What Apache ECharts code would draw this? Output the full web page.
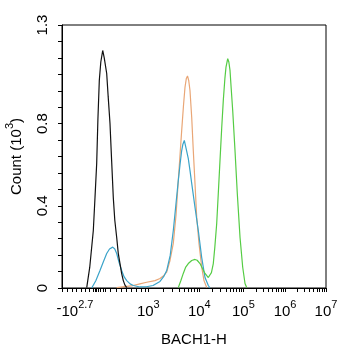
<!DOCTYPE html>
<html><head><meta charset="utf-8">
<script src="https://cdn.jsdelivr.net/npm/echarts@6/dist/echarts.min.js"></script>
<style>html,body{margin:0;padding:0;background:#fff}#c{width:342px;height:350px}</style>
</head><body><div id="c"></div>
<script>
// x values are positions on the display (logicle) channel scale 0..1000, y values are counts in 10^3
const blackX = [93.6, 105, 118.6, 125, 131.4, 136, 141.3, 147, 154.2, 160, 169.3, 175, 181.8, 188, 194.3, 200, 207.2, 213, 219.7, 226, 232.2, 238, 245.1];
const blackY = [0.002, 0.10, 0.280, 0.44, 0.606, 0.82, 1.010, 1.10, 1.156, 1.12, 1.044, 0.93, 0.801, 0.62, 0.440, 0.33, 0.246, 0.17, 0.119, 0.07, 0.036, 0.015, 0.002];

const cyanX = [112.5, 128, 143.9, 156, 169.3, 180, 192.1, 200, 207.2, 216, 226.1, 235, 245.1, 258, 270.1, 295.5, 320, 344.7, 371.2, 385, 396.6, 410, 421.6, 431, 440.5, 447, 453.4, 458, 463.3, 470, 478.4, 485, 491.3, 503.8, 516.3, 529.2, 541.7, 554.2, 560.6];
const cyanY = [0, 0.035, 0.085, 0.125, 0.168, 0.19, 0.199, 0.19, 0.168, 0.125, 0.085, 0.055, 0.036, 0.02, 0.012, 0.005, 0.006, 0.012, 0.032, 0.055, 0.085, 0.16, 0.280, 0.40, 0.523, 0.60, 0.669, 0.70, 0.718, 0.68, 0.630, 0.57, 0.509, 0.392, 0.280, 0.148, 0.051, 0.012, 0];

const orangeX = [207.2, 238.6, 269, 295, 320.8, 352.3, 371.2, 385, 396.6, 409.1, 421.6, 431.8, 440.5, 453.4, 460.2, 465.9, 471, 475.4, 480, 484.8, 491.3, 497.3, 503.8, 510.2, 518.9, 529.2, 537.9, 548.1];
const orangeY = [0.002, 0.007, 0.012, 0.02, 0.028, 0.036, 0.046, 0.06, 0.077, 0.134, 0.217, 0.353, 0.523, 0.767, 0.888, 0.977, 1.02, 1.032, 1.01, 0.961, 0.831, 0.669, 0.509, 0.345, 0.217, 0.101, 0.036, 0.002];

const greenX = [440.5, 450, 459.4, 468, 478.4, 491.3, 503.8, 512, 522.7, 532, 541.7, 554.2, 560.6, 566, 573.1, 579, 586, 592, 598.5, 605, 611, 617, 621.2, 627.7, 632, 636.4, 641, 646.6, 655.3, 664, 674.3, 684.5, 693.2, 699.6];
const greenY = [0.002, 0.035, 0.071, 0.10, 0.119, 0.134, 0.139, 0.135, 0.119, 0.095, 0.071, 0.051, 0.053, 0.075, 0.119, 0.20, 0.314, 0.46, 0.621, 0.78, 0.913, 1.02, 1.075, 1.116, 1.10, 1.059, 0.97, 0.864, 0.669, 0.460, 0.247, 0.101, 0.022, 0.002];

// axis tick labels (channel position, text)
const xLabelPos = [49, 327, 520, 687, 845, 1000];
const xLabelText = ['-{b|10}{s|2.7}', '{b|10}{s|3}', '{b|10}{s|4}', '{b|10}{s|5}', '{b|10}{s|6}', '{b|10}{s|7}'];
const decadePos = [327, 520, 687, 845, 1000];
const lowTicks = [0, 18.9, 39.8, 54.9, 72, 87.1, 102.3, 117.4, 125, 130.7, 136.4, 143.9, 155.3, 162.9, 181.8, 204.5, 226.1, 245.1, 264, 283, 301.9, 314.4];
const yLabelPos = [0, 0.4, 0.8, 1.28];

const xTicks = lowTicks.slice();
for (let i = 0; i < decadePos.length; i++) {
  xTicks.push(decadePos[i]);
  if (i < decadePos.length - 1) {
    for (let k = 2; k <= 9; k++) xTicks.push(decadePos[i] + Math.log10(k) * (decadePos[i + 1] - decadePos[i]));
  }
}
const yTicks = [];
for (let i = 0; i <= 16; i++) yTicks.push(+(i * 0.08).toFixed(2));

const zip = (xs, ys) => xs.map((x, i) => [x, ys[i]]);
const FONT = 'Liberation Sans';

const chart = echarts.init(document.getElementById('c'), null, {renderer: 'canvas'});
const mk = (name, xs, ys, color) => ({
  name, type: 'line', data: zip(xs, ys), showSymbol: false, symbol: 'none',
  lineStyle: {color, width: 1.2}, animation: false, z: 3
});
chart.setOption({
  animation: false,
  backgroundColor: '#fff',
  grid: {left: 62, right: 16, top: 25, bottom: 62, outerBoundsMode: 'none', containLabel: false,
         show: true, borderColor: '#000', borderWidth: 1, backgroundColor: 'transparent'},
  xAxis: {
    type: 'value', min: 0, max: 1000,
    name: 'BACH1-H', nameLocation: 'middle', nameGap: 44,
    nameTextStyle: {fontFamily: FONT, fontSize: 15, color: '#000'},
    axisLine: {show: true, lineStyle: {color: '#000', width: 1}},
    axisTick: {show: true, customValues: xTicks, length: 4, lineStyle: {color: '#000'}},
    axisLabel: {
      customValues: xLabelPos, margin: 11,
      formatter: (v) => { const i = xLabelPos.indexOf(v); return i >= 0 ? xLabelText[i] : ''; },
      color: '#000', fontFamily: FONT, fontSize: 15,
      rich: {
        b: {fontFamily: FONT, fontSize: 15, color: '#000', lineHeight: 20, verticalAlign: 'bottom'},
        s: {fontFamily: FONT, fontSize: 11, color: '#000', lineHeight: 10, verticalAlign: 'top'}
      }
    },
    splitLine: {show: false}
  },
  yAxis: {
    type: 'value', min: 0, max: 1.28,
    name: '{a|Count (10}{s|3}{a|)}', nameLocation: 'middle', nameGap: 38, nameRotate: 90,
    nameTextStyle: {
      fontFamily: FONT, fontSize: 15, color: '#000',
      rich: {
        a: {fontFamily: FONT, fontSize: 15, color: '#000', lineHeight: 20, verticalAlign: 'bottom'},
        s: {fontFamily: FONT, fontSize: 11, color: '#000', lineHeight: 10, verticalAlign: 'top'}
      }
    },
    axisLine: {show: true, lineStyle: {color: '#000', width: 1}},
    axisTick: {show: true, customValues: yTicks, length: 4, lineStyle: {color: '#000'}},
    axisLabel: {
      customValues: yLabelPos, rotate: 90, margin: 12,
      formatter: (v) => v === 0 ? '0' : v.toFixed(1),
      color: '#000', fontFamily: FONT, fontSize: 15
    },
    splitLine: {show: false}
  },
  series: [
    mk('Orange', orangeX, orangeY, '#e9a676'),
    mk('Cyan', cyanX, cyanY, '#3aa3c9'),
    mk('Green', greenX, greenY, '#55cc44'),
    mk('Black', blackX, blackY, '#111111')
  ]
});
</script></body></html>
